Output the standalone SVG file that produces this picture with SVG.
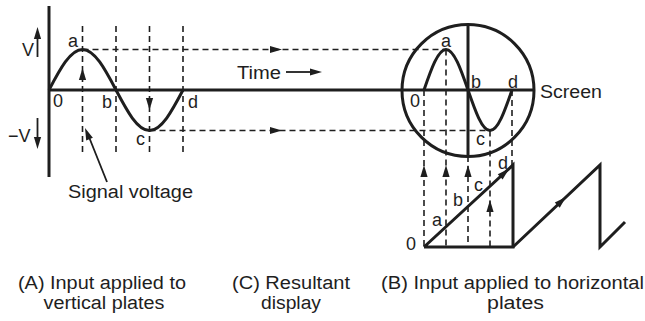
<svg xmlns="http://www.w3.org/2000/svg" xmlns:xlink="http://www.w3.org/1999/xlink" width="645" height="321" viewBox="0 0 645 321">
<style>
.thick{fill:none;stroke:#1e1e1e;stroke-width:3;stroke-linejoin:miter}
.thin{fill:none;stroke:#1e1e1e;stroke-width:1.8}
.dash{fill:none;stroke:#1e1e1e;stroke-width:1.6;stroke-dasharray:6 4}
.ah{fill:#1e1e1e}
text{font-family:"Liberation Sans",Arial,Helvetica,sans-serif;fill:#1e1e1e}
.lbl{font-size:18px}
.big{font-size:18px}
</style>
<defs>
<path id="ah" d="M0,0 L-12,-3.6 L-12,3.6 Z"/>
</defs>
<rect width="645" height="321" fill="#ffffff"/>

<g id="connectors">
  <line class="dash" x1="82.5" y1="26" x2="82.5" y2="152"/>
  <line class="dash" x1="116" y1="26" x2="116" y2="152"/>
  <line class="dash" x1="149.5" y1="26" x2="149.5" y2="152"/>
  <line class="dash" x1="183" y1="26" x2="183" y2="152"/>
  <line class="dash" x1="82.5" y1="49.5" x2="446" y2="49.5"/>
  <line class="dash" x1="149.5" y1="130.5" x2="490" y2="130.5"/>
  <line class="dash" x1="424" y1="90" x2="424" y2="247"/>
  <line class="dash" x1="446" y1="49.5" x2="446" y2="247"/>
  <line class="dash" x1="468" y1="156" x2="468" y2="247"/>
  <line class="dash" x1="490" y1="130.5" x2="490" y2="247"/>
  <line class="dash" x1="512" y1="90" x2="512" y2="166"/>
  <use href="#ah" class="ah" transform="translate(82.5,68) rotate(-90)"/>
  <use href="#ah" class="ah" transform="translate(149.5,110) rotate(90)"/>
  <use href="#ah" class="ah" transform="translate(282,49.5)"/>
  <use href="#ah" class="ah" transform="translate(282,130.5)"/>
  <use href="#ah" class="ah" transform="translate(424,165) rotate(-90)"/>
  <use href="#ah" class="ah" transform="translate(446,165) rotate(-90)"/>
  <use href="#ah" class="ah" transform="translate(468,165) rotate(-90)"/>
  <use href="#ah" class="ah" transform="translate(490,200) rotate(-90)"/>
  <line class="thin" x1="286" y1="72" x2="312" y2="72"/>
  <use href="#ah" class="ah" transform="translate(322,72)"/>
  <line class="thin" x1="37.5" y1="57" x2="37.5" y2="36"/>
  <use href="#ah" class="ah" transform="translate(37.5,27) rotate(-90)"/>
  <line class="thin" x1="37.5" y1="118" x2="37.5" y2="140"/>
  <use href="#ah" class="ah" transform="translate(37.5,149) rotate(90)"/>
  <line class="thin" x1="107" y1="182" x2="89" y2="137"/>
  <use href="#ah" class="ah" transform="translate(85,128) rotate(-112.2)"/>
</g>

<g id="input-vertical">
  <line class="thick" x1="49" y1="6" x2="49" y2="177"/>
  <line class="thick" x1="49" y1="90" x2="534" y2="90"/>
  <path class="thick" d="M49,90 C59.92,69.25 70.38,49.5 82.5,49.5 C94.62,49.5 105.08,69.25 116,90 C126.92,110.75 137.38,130.5 149.5,130.5 C161.62,130.5 172.08,110.75 183,90"/>
  <text class="big" x="22" y="56">V</text>
  <text class="big" x="8" y="142">−V</text>
  <text class="lbl" x="68" y="47">a</text>
  <text class="lbl" x="53" y="107">0</text>
  <text class="lbl" x="102" y="108">b</text>
  <text class="lbl" x="136" y="145">c</text>
  <text class="lbl" x="188" y="108">d</text>
  <text class="big" x="68" y="198" textLength="125" lengthAdjust="spacingAndGlyphs">Signal voltage</text>
  <text class="big" x="237" y="79" textLength="44" lengthAdjust="spacingAndGlyphs">Time</text>
</g>

<g id="screen">
  <circle class="thick" cx="468" cy="90.5" r="66"/>
  <line class="thick" x1="468" y1="24.5" x2="468" y2="156.5"/>
  <path class="thick" d="M424,90 C431.17,69.25 438.04,49.5 446,49.5 C453.96,49.5 460.83,69.25 468,90 C475.17,110.75 482.04,130.5 490,130.5 C497.96,130.5 504.83,110.75 512,90"/>
  <text class="lbl" x="441" y="47">a</text>
  <text class="lbl" x="410" y="107">0</text>
  <text class="lbl" x="471" y="88">b</text>
  <text class="lbl" x="476" y="145">c</text>
  <text class="lbl" x="508" y="88">d</text>
  <text class="big" x="540" y="98" textLength="62" lengthAdjust="spacingAndGlyphs">Screen</text>
</g>

<g id="input-horizontal">
  <path class="thick" d="M424,247 L513,247 L513,165 L424,247"/>
  <path class="thick" d="M513,247 L600,165 L600,247 L625,222"/>
  <use href="#ah" class="ah" transform="translate(509,168.7) rotate(-42.7)"/>
  <use href="#ah" class="ah" transform="translate(566,197) rotate(-43.3)"/>
  <text class="lbl" x="406" y="250">0</text>
  <text class="lbl" x="432" y="226">a</text>
  <text class="lbl" x="453" y="206">b</text>
  <text class="lbl" x="474" y="191">c</text>
  <text class="lbl" x="498" y="169">d</text>
</g>

<g id="captions">
  <text class="big" x="18" y="289" textLength="168" lengthAdjust="spacingAndGlyphs">(A) Input applied to</text>
  <text class="big" x="43.5" y="309" textLength="121" lengthAdjust="spacingAndGlyphs">vertical plates</text>
  <text class="big" x="232" y="289" textLength="118" lengthAdjust="spacingAndGlyphs">(C) Resultant</text>
  <text class="big" x="261" y="309" textLength="60" lengthAdjust="spacingAndGlyphs">display</text>
  <text class="big" x="381" y="289" textLength="263" lengthAdjust="spacingAndGlyphs">(B) Input applied to horizontal</text>
  <text class="big" x="487" y="309" textLength="57" lengthAdjust="spacingAndGlyphs">plates</text>
</g>
</svg>
